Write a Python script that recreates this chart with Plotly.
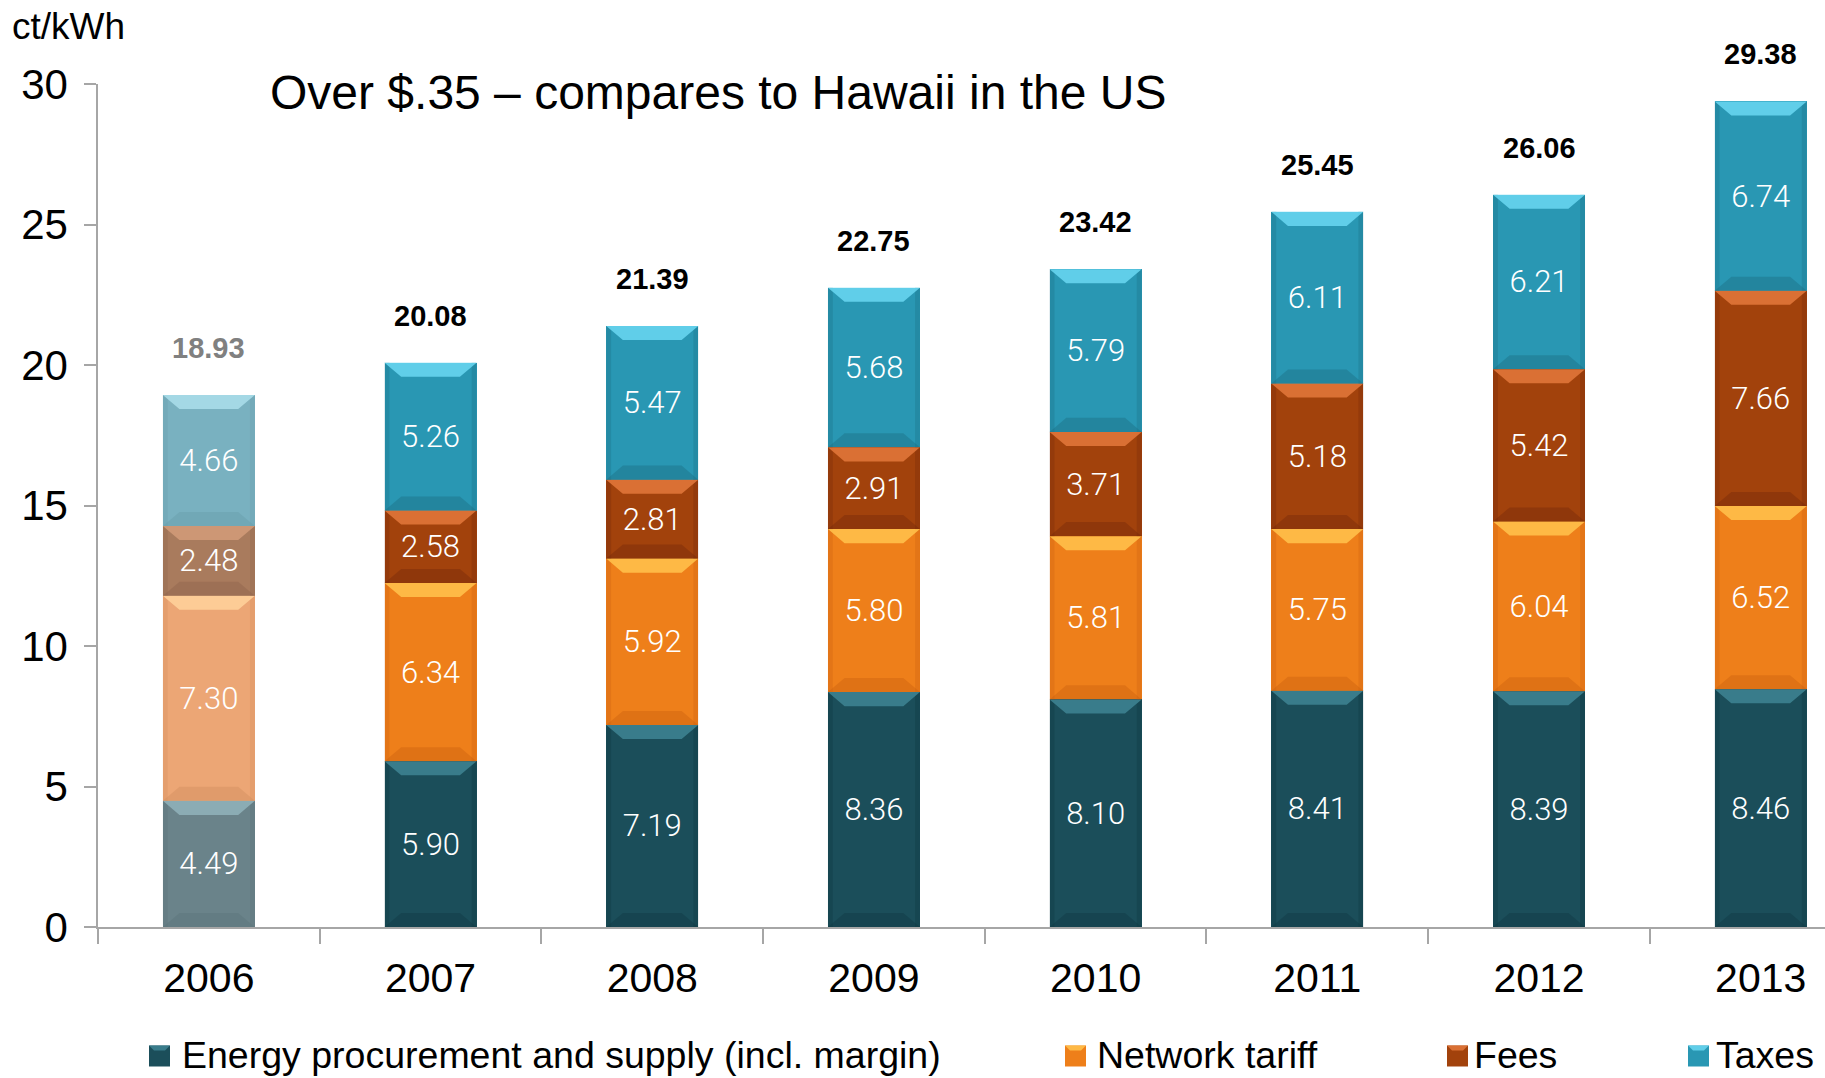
import plotly.graph_objects as go

# --- data (ct/kWh) ---
years = ["2006", "2007", "2008", "2009", "2010", "2011", "2012", "2013"]
energy = [4.49, 5.90, 7.19, 8.36, 8.10, 8.41, 8.39, 8.46]
network = [7.30, 6.34, 5.92, 5.80, 5.81, 5.75, 6.04, 6.52]
fees = [2.48, 2.58, 2.81, 2.91, 3.71, 5.18, 5.42, 7.66]
taxes = [4.66, 5.26, 5.47, 5.68, 5.79, 6.11, 6.21, 6.74]
totals = [18.93, 20.08, 21.39, 22.75, 23.42, 25.45, 26.06, 29.38]

series_names = ["Energy procurement and supply (incl. margin)", "Network tariff", "Fees", "Taxes"]
series_values = [energy, network, fees, taxes]

# --- styling ---
# (main, faded first year, top bevel, bottom bevel)
palette = [
    ("#1b4e5a", "#6a838a", "#3d8290", "#0e3640"),
    ("#ee7f1a", "#eca675", "#ffc04a", "#c95f10"),
    ("#a2420c", "#a97b5d", "#e07538", "#74290a"),
    ("#2997b3", "#79b1c0", "#66d4ee", "#1b6c80"),
]
faded_bevel = [
    ("#8fb0b8", "#5a7278"),
    ("#ffd09a", "#d08c5c"),
    ("#d09a78", "#8c624a"),
    ("#a8dde9", "#679aa8"),
]

# figure geometry (px)
W, H = 1825, 1078
ML, MT, MB = 98, 84, 151
PW, PH = W - ML, H - MT - MB

BAR_W = 0.415
BEVEL_DX = 0.075   # horizontal inset of the bevel (x units)
BEVEL_DY = 0.50    # bevel depth (y units)
SIDE_DX = 0.022    # width of the shaded bar sides (x units)

SANS = "Liberation Sans, Arial, sans-serif"
x_idx = list(range(len(years)))

fig = go.Figure()

for s, (name, vals) in enumerate(zip(series_names, series_values)):
    main, faded, _, _ = palette[s]
    colors = [faded if i == 0 else main for i in x_idx]
    fig.add_trace(go.Bar(
        x=x_idx, y=vals, name=name, width=BAR_W,
        marker=dict(color=colors, line=dict(width=0)),
        text=[f"{v:.2f}" for v in vals],
        textposition="inside", insidetextanchor="middle",
        constraintext="none",
        textfont=dict(family="Roboto, " + SANS, size=31, color="white", weight=300),
        showlegend=False,
        hoverinfo="skip",
    ))

# bevel shading on each stacked segment
shapes = []
for i in x_idx:
    base = 0.0
    for s, vals in enumerate(series_values):
        top = base + vals[i]
        if i == 0:
            hi, lo = faded_bevel[s]
        else:
            hi, lo = palette[s][2], palette[s][3]
        x0, x1 = i - BAR_W / 2, i + BAR_W / 2
        # darker side strips
        for xa, xb in ((x0, x0 + SIDE_DX), (x1 - SIDE_DX, x1)):
            shapes.append(dict(
                type="rect", xref="x", yref="y", layer="above", line=dict(width=0),
                fillcolor=lo, opacity=0.3, x0=xa, x1=xb, y0=base, y1=top,
            ))
        # light top bevel
        shapes.append(dict(
            type="path", xref="x", yref="y", layer="above", line=dict(width=0),
            fillcolor=hi, opacity=0.9,
            path=(f"M{x0},{top} L{x1},{top} L{x1 - BEVEL_DX},{top - BEVEL_DY} "
                  f"L{x0 + BEVEL_DX},{top - BEVEL_DY} Z"),
        ))
        # dark bottom bevel
        shapes.append(dict(
            type="path", xref="x", yref="y", layer="above", line=dict(width=0),
            fillcolor=lo, opacity=0.4,
            path=(f"M{x0},{base} L{x1},{base} L{x1 - BEVEL_DX},{base + BEVEL_DY} "
                  f"L{x0 + BEVEL_DX},{base + BEVEL_DY} Z"),
        ))
        base = top


def px_x(px):
    return (px - ML) / PW


def px_y(py):
    return (H - MB - py) / PH


annotations = []
# totals above each bar
for i, t in zip(x_idx, totals):
    annotations.append(dict(
        x=i, y=t, xref="x", yref="y", text=f"<b>{t:.2f}</b>", showarrow=False,
        yanchor="middle", yshift=47,
        font=dict(family=SANS, size=29, color="#808080" if i == 0 else "#000000"),
    ))

annotations.append(dict(
    x=px_x(10), y=px_y(26), xref="paper", yref="paper", xanchor="left", yanchor="middle",
    text="ct/kWh", showarrow=False,
    font=dict(family=SANS, size=37, color="#000000"),
))
annotations.append(dict(
    x=px_x(268), y=px_y(93), xref="paper", yref="paper", xanchor="left", yanchor="middle",
    text="Over $.35 \u2013 compares to Hawaii in the US", showarrow=False,
    font=dict(family=SANS, size=48, color="#000000"),
))

# legend row: swatch left edge and text left edge (px)
legend_swatch_x = [149, 1065, 1447, 1688]
legend_text_x = [180, 1095, 1472, 1714]
LEG_Y = 1055
SW = 21
for s, name in enumerate(series_names):
    main, _, hi, lo = palette[s]
    sx = legend_swatch_x[s]
    shapes.append(dict(
        type="rect", xref="paper", yref="paper",
        x0=px_x(sx), x1=px_x(sx + SW), y0=px_y(LEG_Y + SW / 2 + 1), y1=px_y(LEG_Y - SW / 2 + 1),
        fillcolor=main, line=dict(width=0),
    ))
    shapes.append(dict(
        type="path", xref="paper", yref="paper", fillcolor=hi, opacity=0.9, line=dict(width=0),
        path=(f"M{px_x(sx)},{px_y(LEG_Y - SW / 2 + 1)} L{px_x(sx + SW)},{px_y(LEG_Y - SW / 2 + 1)} "
              f"L{px_x(sx + SW - 5)},{px_y(LEG_Y - SW / 2 + 6)} L{px_x(sx + 5)},{px_y(LEG_Y - SW / 2 + 6)} Z"),
    ))
    annotations.append(dict(
        x=px_x(legend_text_x[s]), y=px_y(LEG_Y), xref="paper", yref="paper",
        xanchor="left", yanchor="middle", text=name, showarrow=False,
        font=dict(family=SANS, size=37.5, color="#000000"),
    ))

fig.update_layout(
    barmode="stack",
    width=W, height=H,
    margin=dict(l=ML, r=0, t=MT, b=MB),
    paper_bgcolor="white", plot_bgcolor="white",
    shapes=shapes,
    annotations=annotations,
    showlegend=False,
    xaxis=dict(
        range=[-0.5, 7.29],
        tickmode="array", tickvals=x_idx, ticktext=years,
        ticks="", showgrid=False, zeroline=False,
        showline=True, linecolor="#a6a6a6", linewidth=2,
        tickfont=dict(family=SANS, size=41, color="#000000"),
        ticklabelstandoff=14,
        minor=dict(tick0=0.5, dtick=1, ticks="outside", ticklen=15,
                   tickcolor="#a6a6a6", tickwidth=1.5, showgrid=False),
        fixedrange=True,
    ),
    yaxis=dict(
        range=[0, 30],
        tickmode="array", tickvals=[0, 5, 10, 15, 20, 25, 30],
        ticks="outside", ticklen=12, tickcolor="#a6a6a6", tickwidth=1.5,
        showgrid=False, zeroline=False,
        showline=True, linecolor="#a6a6a6", linewidth=1.5,
        tickfont=dict(family=SANS, size=42, color="#000000"),
        ticklabelstandoff=8,
        fixedrange=True,
    ),
)

fig.write_html("out.html")
